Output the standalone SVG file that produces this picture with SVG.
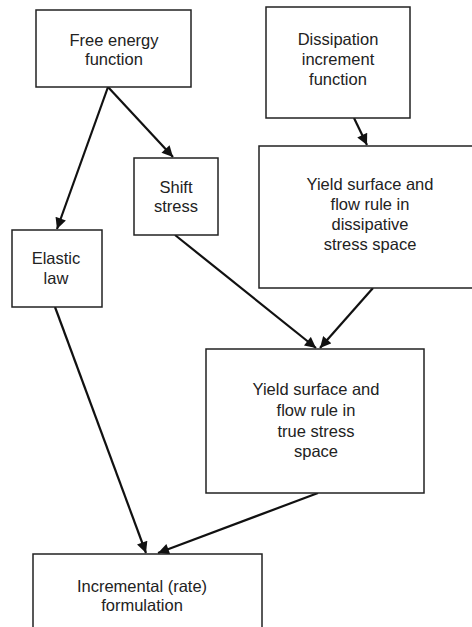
<svg xmlns="http://www.w3.org/2000/svg" width="472" height="627" viewBox="0 0 472 627">
<style>
.box{fill:#fff;stroke:#222;stroke-width:1.5}
.t{font-family:"Liberation Sans",Arial,sans-serif;font-size:16.5px;fill:#222;text-anchor:middle}
.c{stroke:#111;stroke-width:2.2;fill:none;marker-end:url(#ah)}
</style>
<defs>
<marker id="ah" viewBox="0 0 10 10" refX="10" refY="5" markerWidth="5.5" markerHeight="5" orient="auto" markerUnits="strokeWidth">
<path d="M0,0 L10,5 L0,10 z" fill="#111"/>
</marker>
</defs>
<rect width="472" height="627" fill="#fff"/>
<g id="connectors">
<line class="c" x1="108" y1="87" x2="57" y2="229"/>
<line class="c" x1="108" y1="87" x2="173" y2="157"/>
<line class="c" x1="354" y1="118" x2="367" y2="145"/>
<line class="c" x1="175" y1="235" x2="316" y2="348"/>
<line class="c" x1="373" y1="288" x2="320" y2="348"/>
<line class="c" x1="55" y1="307" x2="146" y2="553"/>
<line class="c" x1="318" y1="493" x2="158" y2="553"/>
</g>
<g id="free-energy">
<rect class="box" x="36" y="10" width="155" height="77"/>
<text class="t" x="114" y="46">Free energy</text>
<text class="t" x="114" y="65">function</text>
</g>
<g id="dissipation">
<rect class="box" x="266" y="7" width="144" height="111"/>
<text class="t" x="338" y="45">Dissipation</text>
<text class="t" x="338" y="65">increment</text>
<text class="t" x="338" y="85">function</text>
</g>
<g id="shift-stress">
<rect class="box" x="134" y="158" width="84" height="77"/>
<text class="t" x="176" y="193">Shift</text>
<text class="t" x="176" y="212">stress</text>
</g>
<g id="yield-dissipative">
<rect class="box" x="259" y="146" width="220" height="142"/>
<text class="t" x="370" y="190">Yield surface and</text>
<text class="t" x="370" y="210">flow rule in</text>
<text class="t" x="370" y="230">dissipative</text>
<text class="t" x="370" y="250">stress space</text>
</g>
<g id="elastic-law">
<rect class="box" x="12" y="230" width="90" height="77"/>
<text class="t" x="56" y="264">Elastic</text>
<text class="t" x="56" y="284">law</text>
</g>
<g id="yield-true">
<rect class="box" x="206" y="349" width="218" height="144"/>
<text class="t" x="316" y="395">Yield surface and</text>
<text class="t" x="316" y="416">flow rule in</text>
<text class="t" x="316" y="437">true stress</text>
<text class="t" x="316" y="457">space</text>
</g>
<g id="incremental">
<rect class="box" x="33" y="554" width="229" height="90"/>
<text class="t" x="142" y="592">Incremental (rate)</text>
<text class="t" x="142" y="611">formulation</text>
</g>
</svg>
